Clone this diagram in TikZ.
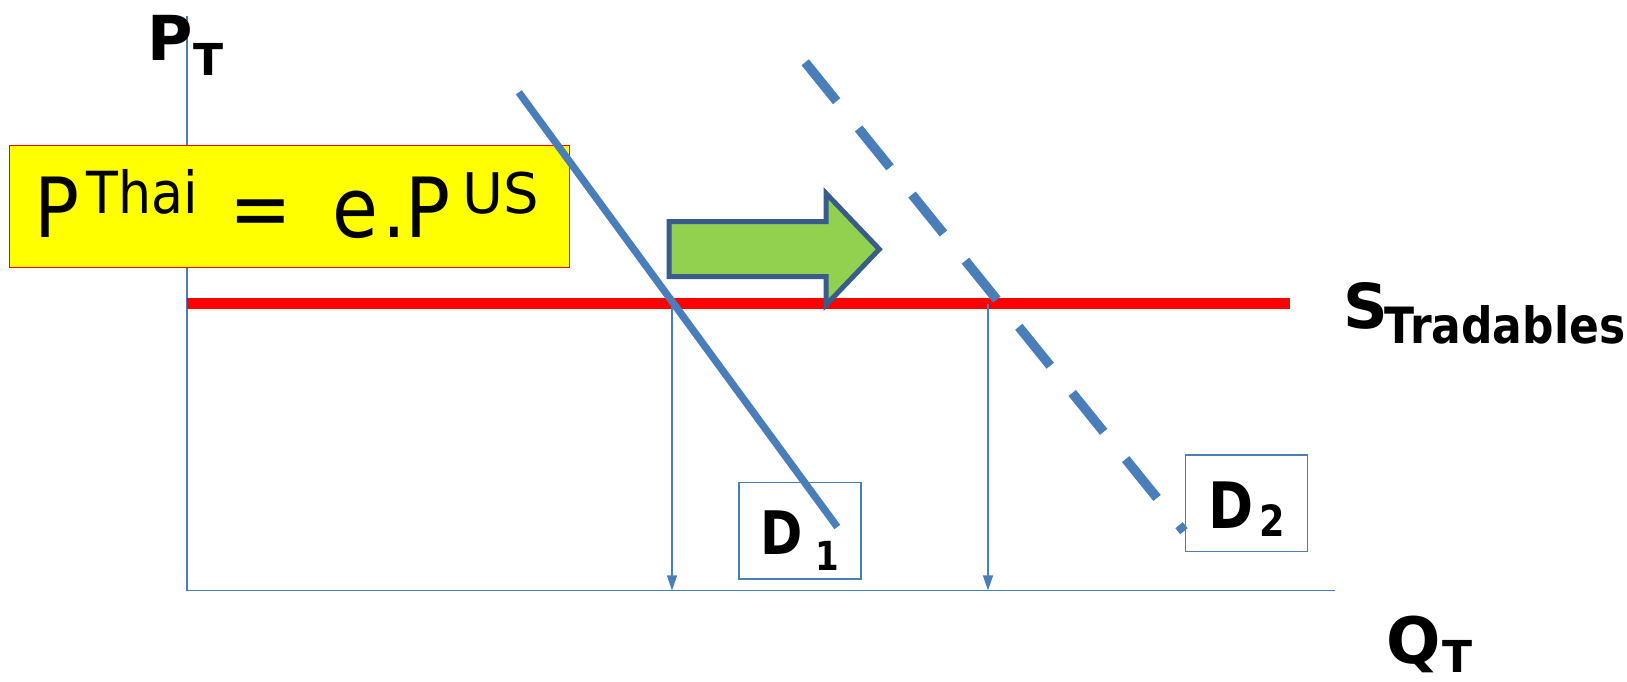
\documentclass[tikz,border=0pt]{standalone}
\usepackage{fontspec}
\usetikzlibrary{arrows.meta}
\newfontfamily\boxfont[FakeStretch=0.9]{DejaVu Sans}
\newfontfamily\boxwide{DejaVu Sans}
\newfontfamily\lblfont[FakeStretch=0.85]{DejaVu Sans}
\newfontfamily\lblwide{DejaVu Sans}
\newfontfamily\tradfont[FakeStretch=0.88]{DejaVu Sans}
\definecolor{lineblue}{HTML}{4A7EBB}
\definecolor{arrowgreen}{HTML}{92D050}
\definecolor{arrowedge}{HTML}{385D8A}
\definecolor{boxyellow}{HTML}{FFFF00}
\definecolor{supplyred}{HTML}{FF0000}
\tikzset{
  axisline/.style={draw=lineblue, line width=1.5pt},
  dropline/.style={draw=lineblue, line width=1.5pt, -{Triangle[length=15pt,width=10pt]}},
  supply/.style={draw=supplyred, line width=11pt},
  demandold/.style={draw=lineblue, line width=7.3pt},
  demandnew/.style={draw=lineblue, line width=9.5pt, dash pattern=on 50pt off 35pt},
  dbox/.style={draw=lineblue, line width=1.5pt, inner sep=0pt, minimum width=122pt, minimum height=96.5pt, font=\lblfont\bfseries},
  eqbox/.style={draw=supplyred, fill=boxyellow, line width=1.5pt, inner sep=0pt, minimum width=560.3pt, minimum height=122.4pt, font=\boxfont},
  lbl/.style={inner sep=0pt, anchor=base west, font=\lblwide\bfseries},
  shiftarrow/.style={draw=arrowedge, fill=arrowgreen, line width=5pt, line join=miter}
}
\begin{document}
\begin{tikzpicture}[x=1pt,y=-1pt]
\useasboundingbox (0,0) rectangle (1627,681);
% axes
\coordinate (O) at (186.8,590.4);
\coordinate (Ytop) at (186.8,16);
\coordinate (Xend) at (1335.4,590.4);
\draw[axisline] (Ytop) -- (O) -- (Xend);
% equation box
\node[eqbox, text height=62pt, text depth=0pt] (eq) at (289.5,206.5)
  {\fontsize{83}{83}\selectfont P\hspace{7pt}\raisebox{24pt}{\fontsize{58}{58}\selectfont Thai}\hspace{31.5pt}=\hspace{40pt}e\hspace{4pt}.P\hspace{12pt}\raisebox{24pt}{\boxwide\fontsize{56}{56}\selectfont US}\hspace*{5pt}};
% supply line
\coordinate (S0) at (186.8,303.5);
\coordinate (S1) at (1289.7,303.5);
\draw[supply] (S0) -- (S1);
% shift arrow
\draw[shiftarrow] (669,221.7) -- (826,221.7) -- (826,193.3) -- (879.3,249.2) -- (826,305) -- (826,276.7) -- (669,276.7) -- cycle;
% demand boxes
\node[dbox, text height=46.6pt, text depth=0pt] (D1) at (800,530.7)
  {\fontsize{60}{60}\selectfont D\hspace{13pt}\raisebox{-16pt}{\fontsize{40}{40}\selectfont 1}};
\node[dbox, text height=50.6pt, text depth=0pt] (D2) at (1246.3,503)
  {\fontsize{64}{64}\selectfont D\hspace{6pt}\raisebox{-8.4pt}{\fontsize{43}{43}\selectfont 2}};
% demand lines
\coordinate (D1a) at (518.8,92.3);
\coordinate (D1b) at (837.3,527);
\draw[demandold] (D1a) -- (D1b);
\coordinate (D2a) at (805.2,62.3);
\coordinate (D2b) at (1183.9,531.2);
\draw[demandnew] (D2a) -- (D2b);
% drop lines
\coordinate (E1) at (672,303.5);
\coordinate (F1) at (672,590.4);
\coordinate (E2) at (988,303.5);
\coordinate (F2) at (988,590.4);
\draw[dropline] (E1) -- (F1);
\draw[dropline] (E2) -- (F2);
% axis labels
\node[lbl] (PT) at (147.5,60) {\fontsize{62}{62}\selectfont P\raisebox{-15pt}{\fontsize{44}{44}\selectfont T}};
\node[lbl] (ST) at (1343,328.3) {\fontsize{62}{62}\selectfont S\hspace{-3pt}\raisebox{-15pt}{\tradfont\bfseries\fontsize{50}{50}\selectfont Tradables}};
\node[lbl] (QT) at (1386,663) {\fontsize{64}{64}\selectfont Q\hspace{2pt}\raisebox{-9pt}{\fontsize{44}{44}\selectfont T}};
\end{tikzpicture}
\end{document}
